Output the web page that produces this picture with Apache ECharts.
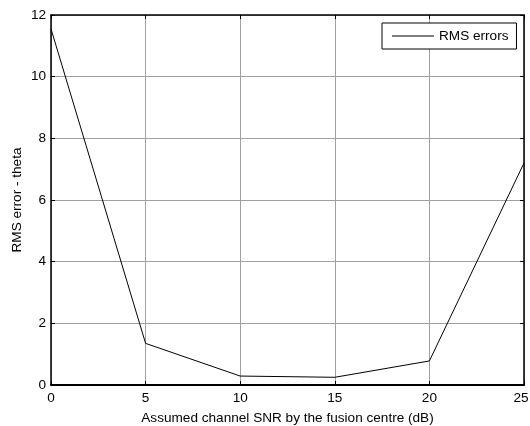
<!DOCTYPE html>
<html><head><meta charset="utf-8">
<script src="https://cdn.jsdelivr.net/npm/echarts@6/dist/echarts.min.js"></script>
<style>html,body{margin:0;padding:0;background:#fff}#c{width:530px;height:426px}</style>
</head><body><div id="c"></div>
<script>
const snr = [0, 5, 10, 15, 20, 25];
const rmsErrors = [11.55, 1.35, 0.29, 0.25, 0.78, 7.2];
const seriesName = 'RMS errors';
const xTitle = 'Assumed channel SNR by the fusion centre (dB)';
const yTitle = 'RMS error - theta';

const font = 'Liberation Sans, Arial, sans-serif';
const fs = 13.6;
const chart = echarts.init(document.getElementById('c'), null, {renderer: 'canvas'});
const tick = {show: true, inside: true, length: 4, lineStyle: {color: '#000'}};
chart.setOption({
  animation: false,
  backgroundColor: '#fff',
  grid: {left: 51, right: 6, top: 15, bottom: 41, show: false, outerBoundsMode: 'none', containLabel: false},
  legend: {
    data: [{name: seriesName, icon: 'rect'}], left: 382, top: 23, orient: 'vertical',
    itemWidth: 42, itemHeight: 1, itemGap: 0,
    padding: [6, 8, 6, 10], borderColor: '#000', borderWidth: 1, backgroundColor: '#fff',
    itemStyle: {color: '#000'},
    textStyle: {fontFamily: font, fontSize: fs, color: '#000'}
  },
  xAxis: [{
    type: 'value', min: 0, max: 25, interval: 5, position: 'bottom',
    axisLine: {show: true, onZero: false, lineStyle: {color: '#000', width: 2}},
    axisTick: tick,
    axisLabel: {
      fontFamily: font, fontSize: fs, color: '#000', margin: 6,
      formatter: v => v === 25 ? '{r|' + v + '}' : String(v),
      rich: {r: {fontFamily: font, fontSize: fs, color: '#000', padding: [0, 6, 0, 0]}}
    },
    splitLine: {show: true, lineStyle: {color: '#a0a0a0', width: 1}},
    name: xTitle, nameLocation: 'middle', nameGap: 26, nameMoveOverlap: false,
    nameTextStyle: {fontFamily: font, fontSize: fs, color: '#000'}
  }, {
    type: 'value', min: 0, max: 25, interval: 5, position: 'top',
    axisLine: {show: true, onZero: false, lineStyle: {color: '#000', width: 1.5}},
    axisTick: tick, axisLabel: {show: false}, splitLine: {show: false}
  }],
  yAxis: [{
    type: 'value', min: 0, max: 12, interval: 2, position: 'left',
    axisLine: {show: true, onZero: false, lineStyle: {color: '#000', width: 1.5}},
    axisTick: tick,
    axisLabel: {fontFamily: font, fontSize: fs, color: '#000', margin: 5},
    splitLine: {show: true, lineStyle: {color: '#a0a0a0', width: 1}},
    name: yTitle, nameLocation: 'middle', nameGap: 27, nameMoveOverlap: false,
    nameTextStyle: {fontFamily: font, fontSize: fs, color: '#000'}
  }, {
    type: 'value', min: 0, max: 12, interval: 2, position: 'right',
    axisLine: {show: true, onZero: false, lineStyle: {color: '#000', width: 1.5}},
    axisTick: tick, axisLabel: {show: false}, splitLine: {show: false}
  }],
  series: [{
    name: seriesName, type: 'line', symbol: 'none',
    data: snr.map((x, i) => [x, rmsErrors[i]]),
    lineStyle: {color: '#000', width: 1}, itemStyle: {color: '#000'}
  }]
});
</script></body></html>
